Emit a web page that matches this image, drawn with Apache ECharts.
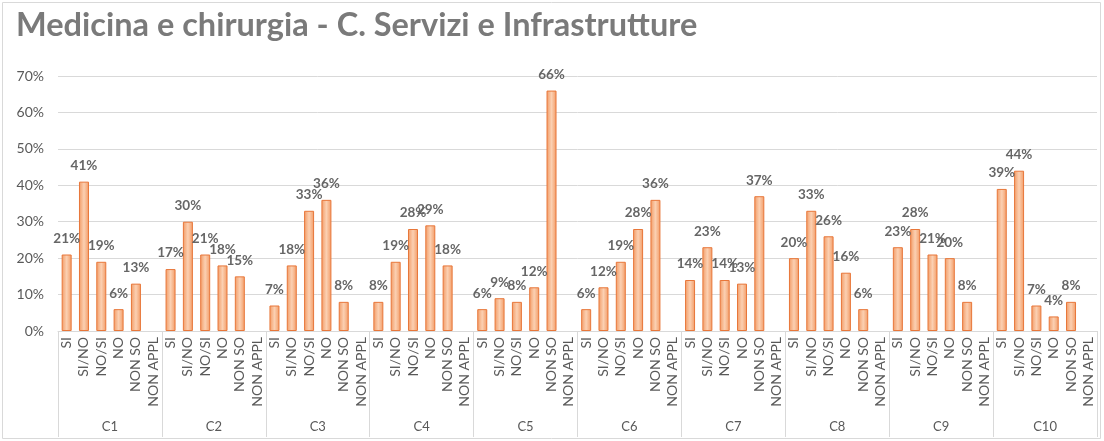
<!DOCTYPE html>
<html>
<head>
<meta charset="utf-8">
<script src="https://cdn.jsdelivr.net/npm/echarts@6/dist/echarts.min.js"></script>
<style>
html,body{margin:0;padding:0;background:#fff;}
#chart{width:1104px;height:441px;}
</style>
</head>
<body>
<div id="chart"></div>
<script>
const title = 'Medicina e chirurgia - C. Servizi e Infrastrutture';
const groups = ['C1','C2','C3','C4','C5','C6','C7','C8','C9','C10'];
const answers = ['SI','SI/NO','NO/SI','NO','NON SO','NON APPL'];
const c1  = [21, 41, 19,  6, 13, null];
const c2  = [17, 30, 21, 18, 15, null];
const c3  = [ 7, 18, 33, 36,  8, null];
const c4  = [ 8, 19, 28, 29, 18, null];
const c5  = [ 6,  9,  8, 12, 66, null];
const c6  = [ 6, 12, 19, 28, 36, null];
const c7  = [14, 23, 14, 13, 37, null];
const c8  = [20, 33, 26, 16,  6, null];
const c9  = [23, 28, 21, 20,  8, null];
const c10 = [39, 44,  7,  4,  8, null];
const yTicks = [0,10,20,30,40,50,60,70];

const groupValues = [c1,c2,c3,c4,c5,c6,c7,c8,c9,c10];
const cats = [];
const vals = [];
groupValues.forEach(function(g){
  g.forEach(function(v,i){ cats.push(answers[i]); vals.push(v); });
});

const chart = echarts.init(document.getElementById('chart'));
const txt = '#595959';
const font = 'Lato, "Open Sans", sans-serif';
chart.setOption({
  animation:false,
  textStyle:{fontFamily:font},
  graphic:[{
    type:'rect', shape:{x:2.5,y:2.5,width:1098,height:436},
    style:{fill:'none',stroke:'#D9D9D9',lineWidth:1}, silent:true
  }],
  title:{
    text:title, left:11, top:4,
    textStyle:{fontFamily:font,fontSize:32.5,fontWeight:'bold',color:'#7a7a7a'}
  },
  grid:{left:58,right:7,top:76,bottom:110,containLabel:false},
  xAxis:[{
    type:'category', data:cats, position:'bottom',
    axisLine:{show:true,lineStyle:{color:'#D9D9D9'}},
    axisTick:{show:false},
    axisLabel:{interval:0,rotate:90,margin:6,fontSize:14,color:txt,fontFamily:font}
  },{
    type:'category', data:groups, position:'bottom',
    axisLine:{show:false},
    axisTick:{show:true,length:106,lineStyle:{color:'#D9D9D9'}},
    axisLabel:{interval:0,margin:89,fontSize:13,color:txt,fontFamily:font}
  }],
  yAxis:{
    type:'value', min:yTicks[0], max:yTicks[yTicks.length-1], interval:10,
    axisLine:{show:false}, axisTick:{show:false},
    axisLabel:{formatter:'{value}%',fontSize:14,color:txt,margin:14,fontFamily:font},
    splitLine:{lineStyle:{color:'#D9D9D9',width:1}}
  },
  series:[{
    type:'bar', data:vals, xAxisIndex:0, barWidth:10,
    itemStyle:{
      borderColor:'#E8773A', borderWidth:1,
      color:new echarts.graphic.LinearGradient(0,0,1,0,[
        {offset:0,color:'#F29A64'},
        {offset:0.5,color:'#FBD0B2'},
        {offset:1,color:'#F29A64'}
      ])
    },
    label:{show:true,position:'top',distance:9,formatter:'{c}%',
      fontSize:13.5,fontWeight:'bold',color:'#666666',fontFamily:font}
  }]
});
</script>
</body>
</html>
